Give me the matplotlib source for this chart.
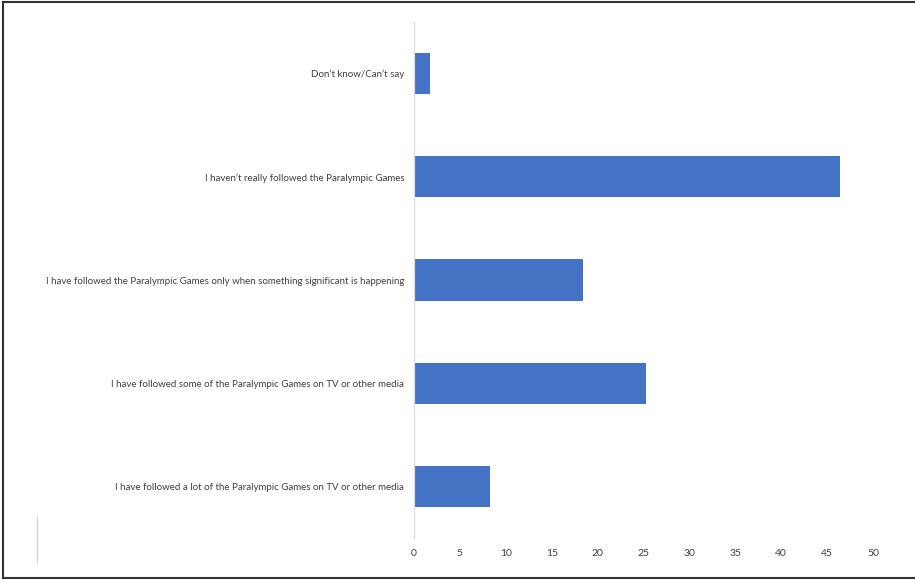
import matplotlib
matplotlib.use("Agg")
import matplotlib.pyplot as plt
from matplotlib.lines import Line2D

# survey responses, top to bottom
categories = [
    "Don\u2019t know/Can\u2019t say",
    "I haven\u2019t really followed the Paralympic Games",
    "I have followed the Paralympic Games only when something significant is happening",
    "I have followed some of the Paralympic Games on TV or other media",
    "I have followed a lot of the Paralympic Games on TV or other media",
]
values = [1.7, 46.4, 18.4, 25.3, 8.3]
x_ticks = [0, 5, 10, 15, 20, 25, 30, 35, 40, 45, 50]

plt.rcParams['font.family'] = ['Lato', 'DejaVu Sans']

W, H = 915, 580
fig = plt.figure(figsize=(W / 100, H / 100), dpi=100)
ax = fig.add_axes([414 / W, 1 - 538 / H, (873 - 414) / W, (538 - 22) / H])

ypos = list(range(len(categories)))
ax.barh(ypos, values, height=0.4, color="#4472C4")
ax.set_yticks(ypos)
ax.set_yticklabels(categories, fontsize=7.05, color="#404040")
ax.set_ylim(len(categories) - 0.5, -0.5)
ax.set_xlim(0, 50)
ax.set_xticks(x_ticks)
ax.set_xticklabels([str(t) for t in x_ticks], fontsize=7.5, color="#404040")
ax.tick_params(axis="both", length=0)
ax.tick_params(axis="y", pad=7)
ax.tick_params(axis="x", pad=8)

for s in ["top", "right", "bottom"]:
    ax.spines[s].set_visible(False)
ax.spines["left"].set_color("#d9d9d9")
ax.spines["left"].set_linewidth(0.9)

# outer frame (top, left, bottom) and stray mark from the source screenshot
frame_kw = dict(transform=fig.transFigure, color="#333333", linewidth=1.5)
fig.add_artist(Line2D([3 / W, 1], [1 - 2 / H, 1 - 2 / H], **frame_kw))
fig.add_artist(Line2D([3 / W, 3 / W], [1 - 2 / H, 1 - 578 / H], **frame_kw))
fig.add_artist(Line2D([3 / W, 1], [1 - 578 / H, 1 - 578 / H], **frame_kw))
fig.add_artist(Line2D([37 / W, 37 / W], [1 - 517 / H, 1 - 562 / H],
                      transform=fig.transFigure, color="#d9d9d9", linewidth=1))

fig.savefig("out.png", dpi=100)
